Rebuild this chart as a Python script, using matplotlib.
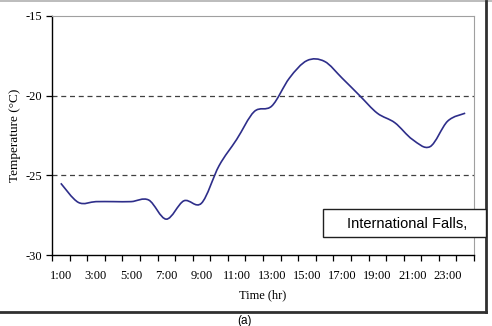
import matplotlib
matplotlib.use('Agg')
import matplotlib.pyplot as plt
from matplotlib.path import Path
from matplotlib.patches import PathPatch, Rectangle
from matplotlib.lines import Line2D

hours = ['%d:00' % h for h in range(1, 25)]
temps = [-25.5, -26.7, -26.65, -26.65, -26.65, -26.55, -27.75, -26.6,
         -26.75, -24.4, -22.75, -21.0, -20.65, -18.9, -17.8, -17.85,
         -18.9, -20.0, -21.1, -21.7, -22.75, -23.2, -21.6, -21.1]

serif = 'Liberation Serif'
W, H = 492, 326

fig = plt.figure(figsize=(W / 100, H / 100), dpi=100)
ax = fig.add_axes([52 / W, 1 - 255 / H, (474 - 52) / W, (255 - 16) / H])

# smoothed line like excel (bezier through the points)
xs = list(range(len(temps)))
n = len(temps)
verts = [(xs[0], temps[0])]
codes = [Path.MOVETO]
for i in range(n - 1):
    x0, y0 = (xs[i - 1], temps[i - 1]) if i > 0 else (xs[i], temps[i])
    x1, y1 = xs[i], temps[i]
    x2, y2 = xs[i + 1], temps[i + 1]
    x3, y3 = (xs[i + 2], temps[i + 2]) if i + 2 < n else (x2, y2)
    verts += [(x1 + (x2 - x0) / 6, y1 + (y2 - y0) / 6),
              (x2 - (x3 - x1) / 6, y2 - (y3 - y1) / 6),
              (x2, y2)]
    codes += [Path.CURVE4] * 3
ax.add_patch(PathPatch(Path(verts, codes), fill=False, edgecolor='#2e2e8a',
                       linewidth=1.2, zorder=3))

ax.set_xlim(-0.5, n - 0.5)
ax.set_ylim(-30, -15)

for y in [-20, -25]:
    ax.axhline(y, color='#404040', linewidth=0.9, dashes=(4, 3), zorder=1)

ax.set_yticks([-30, -25, -20, -15])
ax.set_yticklabels(['-30', '-25', '-20', '-15'])
ax.set_xticks(xs[::2])
ax.set_xticklabels(hours[::2])
ax.set_xticks([i - 0.5 for i in range(n + 1)], minor=True)
ax.tick_params(axis='x', which='major', length=0, pad=11)
ax.tick_params(axis='x', which='minor', length=4, width=0.9, direction='out')
ax.tick_params(axis='y', length=4, width=0.9, direction='out', pad=3)
for lab in ax.get_xticklabels() + ax.get_yticklabels():
    lab.set_fontfamily(serif)
    lab.set_fontsize(9)

for s in ['top', 'right']:
    ax.spines[s].set_color('#a0a0a0')
for s in ['left', 'bottom']:
    ax.spines[s].set_color('black')
    ax.spines[s].set_linewidth(1.0)

ax.set_xlabel('Time (hr)', fontfamily=serif, fontsize=9)
ax.xaxis.set_label_coords((263 - 52) / (474 - 52), -(289 - 255) / (255 - 16))
ax.set_ylabel('Temperature (°C)', fontfamily=serif, fontsize=9.5)
ax.yaxis.set_label_coords(-(52 - 21) / (474 - 52), 0.5)

# outer frame pieces
fig.add_artist(Line2D([0, 1], [1 - 1 / H, 1 - 1 / H], color='#b0b0b0', linewidth=1.2))
fig.add_artist(Line2D([486 / W, 486 / W], [1 - 1 / H, 1 - 312 / H], color='#303030', linewidth=2))
fig.add_artist(Line2D([0, 486 / W], [1 - 312 / H, 1 - 312 / H], color='#303030', linewidth=2))

# label box
fig.add_artist(Rectangle((323 / W, 1 - 237 / H), (486 - 323) / W, (237 - 209) / H,
                         transform=fig.transFigure, facecolor='white',
                         edgecolor='#202020', linewidth=1.0, zorder=5))
fig.text(407 / W, 1 - 224 / H, 'International Falls,', fontfamily='Liberation Sans',
         fontsize=10.5, ha='center', va='center', zorder=6)

fig.text(245 / W, 1 - 315 / H, '(a)', fontfamily='Liberation Sans', fontsize=8.5,
         ha='center', va='top')

fig.savefig('out.png', dpi=100)
